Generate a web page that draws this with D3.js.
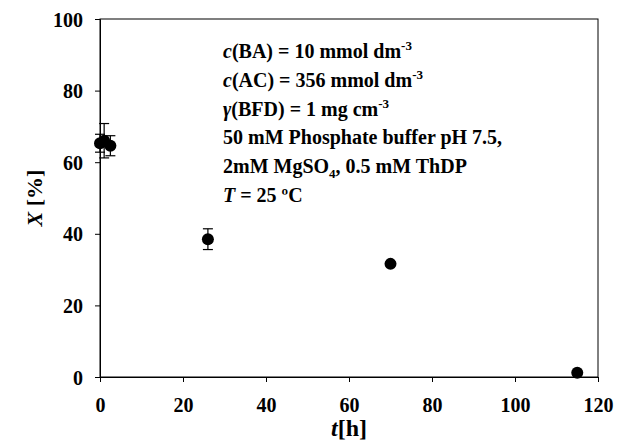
<!DOCTYPE html>
<html><head><meta charset="utf-8">
<script src="https://cdn.jsdelivr.net/npm/d3@7"></script>
<style>body{margin:0;background:#fff}svg{display:block}text{font-family:"Liberation Serif","Times New Roman",serif;font-weight:bold;fill:#000}</style>
</head><body><svg id="c" width="617" height="442"></svg>
<script>
const timeH = [0, 1, 2.5, 26, 70, 115];
const conversion = [65.3, 66.0, 64.6, 38.5, 31.6, 1.2];
const errLow = [2.5, 4.8, 2.8, 2.9, 0.5, 0.3];
const errHigh = [2.5, 4.8, 2.8, 2.9, 0.5, 0.3];
const xTicks = [0, 20, 40, 60, 80, 100, 120];
const yTicks = [0, 20, 40, 60, 80, 100];

const svg = d3.select("#c");
const L = 100, R = 598, T = 19, B = 377;
const x = d3.scaleLinear().domain([0, 120]).range([L, R]);
const y = d3.scaleLinear().domain([0, 100]).range([B, T]);

// frame
svg.append("rect").attr("x", L).attr("y", T).attr("width", R - L).attr("height", B - T)
  .attr("fill", "none").attr("stroke", "#000").attr("stroke-width", 1);

const xa = svg.append("g").attr("transform", `translate(0,${B})`)
  .call(d3.axisBottom(x).tickValues(xTicks).tickSize(5).tickPadding(16).tickFormat(d3.format("d")));
const ya = svg.append("g").attr("transform", `translate(${L},0)`)
  .call(d3.axisLeft(y).tickValues(yTicks).tickSize(5).tickPadding(12).tickFormat(d3.format("d")));
[xa, ya].forEach(a => {
  a.select(".domain").attr("stroke", "#000");
  a.selectAll("line").attr("stroke", "#000");
  a.selectAll("text").style("font-family", '"Liberation Serif",serif').style("font-weight", "bold").style("font-size", "20px").attr("fill", "#000");
});
xa.selectAll("text").attr("dy", "0.71em");
ya.selectAll("text").attr("dy", "0.35em");

// error bars
const eb = svg.append("g").attr("stroke", "#000").attr("stroke-width", 1.2);
timeH.forEach((t, i) => {
  const cx = x(t), hi = y(conversion[i] + errHigh[i]), lo = y(conversion[i] - errLow[i]);
  eb.append("line").attr("x1", cx).attr("x2", cx).attr("y1", hi).attr("y2", lo);
  eb.append("line").attr("x1", cx - 5).attr("x2", cx + 5).attr("y1", hi).attr("y2", hi);
  eb.append("line").attr("x1", cx - 5).attr("x2", cx + 5).attr("y1", lo).attr("y2", lo);
});
svg.append("g").selectAll("circle").data(timeH).join("circle")
  .attr("cx", d => x(d)).attr("cy", (d, i) => y(conversion[i])).attr("r", 6).attr("fill", "#000");

// axis titles
const yt = svg.append("text").attr("transform", "translate(42,198) rotate(-90)")
  .attr("text-anchor", "middle").style("font-size", "22px");
yt.append("tspan").attr("font-style", "italic").text("X");
yt.append("tspan").text(" [%]");
const xt = svg.append("text").attr("x", 349).attr("y", 436).attr("text-anchor", "middle").style("font-size", "24px");
xt.append("tspan").attr("font-style", "italic").text("t");
xt.append("tspan").text("[h]");

// annotation
const ann = svg.append("g").style("font-size", "20px");
const lines = [
  [["c", "i"], ["(BA) = 10 mmol dm", ""], ["-3", "sup"]],
  [["c", "i"], ["(AC) = 356 mmol dm", ""], ["-3", "sup"]],
  [["γ", "i"], ["(BFD) = 1 mg cm", ""], ["-3", "sup"]],
  [["50 mM Phosphate buffer pH 7.5,", ""]],
  [["2mM MgSO", ""], ["4", "sub"], [", 0.5 mM ThDP", ""]],
  [["T", "i"], [" = 25 ºC", ""]]
];
lines.forEach((ln, k) => {
  const tx = ann.append("text").attr("x", 223).attr("y", 58 + k * 28.8);
  ln.forEach(([s, st]) => {
    const sp = tx.append("tspan").text(s);
    if (st === "i") sp.attr("font-style", "italic");
    if (st === "sup") sp.attr("dy", -8).style("font-size", "13px");
    if (st === "sub") sp.attr("dy", 5).style("font-size", "13px");
    if (st === "" && ln.indexOf(ln.find(p => p[0] === s)) > 0) {
      const prev = ln[ln.findIndex(p => p[0] === s) - 1];
      if (prev && prev[1] === "sub") sp.attr("dy", -5);
    }
  });
});
</script></body></html>
